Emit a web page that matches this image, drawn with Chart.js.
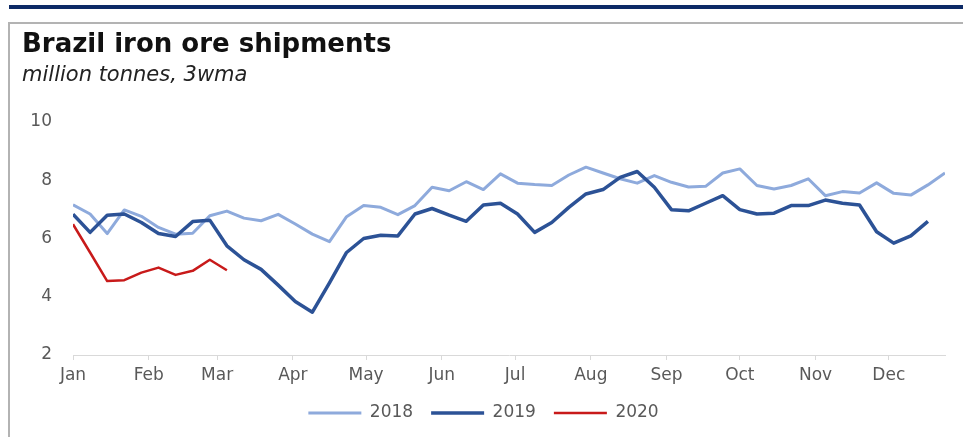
<!DOCTYPE html>
<html>
<head>
<meta charset="utf-8">
<title>Brazil iron ore shipments</title>
<script src="https://cdn.jsdelivr.net/npm/chart.js@4.4.1/dist/chart.umd.min.js"></script>
<style>
    html, body { margin: 0; padding: 0; background: #ffffff; }
    body { width: 963px; height: 437px; position: relative; overflow: hidden; }
    .top-band { position: absolute; left: 9px; top: 5px; width: 954px; height: 4px; background: #0d2a66; }
    .frame { position: absolute; left: 8px; top: 22px; width: 960px; height: 420px;
             border-top: 2px solid #b3b3b3; border-left: 2px solid #b3b3b3; box-sizing: border-box; }
    .chart-box { position: absolute; left: 0; top: 0; width: 963px; height: 437px; }
</style>
</head>
<body>
<div class="top-band"></div>
<div class="frame"></div>
<div class="chart-box"><canvas id="shipments-chart"></canvas></div>

<script>
// Weekly shipments, 3-week moving average (million tonnes)
const weekDay = [0, 7, 14, 21, 28, 35, 42, 49, 56, 63, 70, 77, 84, 91, 98, 105, 112, 119, 126, 133,
    140, 147, 154, 161, 168, 175, 182, 189, 196, 203, 210, 217, 224, 231, 238, 245, 252, 259, 266, 273,
    280, 287, 294, 301, 308, 315, 322, 329, 336, 343, 350, 357];

const ship2018 = [7.16, 6.84, 6.17, 6.98, 6.76, 6.38, 6.15, 6.18, 6.78, 6.94, 6.70, 6.61, 6.83, 6.50,
    6.15, 5.89, 6.75, 7.13, 7.07, 6.82, 7.13, 7.76, 7.64, 7.95, 7.68, 8.22, 7.90, 7.85, 7.82, 8.18,
    8.45, 8.25, 8.05, 7.90, 8.16, 7.93, 7.77, 7.79, 8.25, 8.39, 7.82, 7.70, 7.82, 8.05, 7.47, 7.61,
    7.56, 7.91, 7.55, 7.49, 7.84, 8.25];

const ship2019 = [6.83, 6.21, 6.80, 6.84, 6.55, 6.17, 6.07, 6.58, 6.63, 5.75, 5.27, 4.94, 4.40, 3.84,
    3.47, 4.48, 5.52, 6.00, 6.11, 6.09, 6.84, 7.03, 6.80, 6.59, 7.15, 7.21, 6.84, 6.21, 6.55, 7.07,
    7.53, 7.68, 8.10, 8.30, 7.76, 6.99, 6.95, 7.21, 7.47, 6.99, 6.84, 6.87, 7.13, 7.13, 7.32, 7.21,
    7.15, 6.23, 5.84, 6.09, 6.59];

const ship2020 = [6.49, 5.52, 4.54, 4.57, 4.83, 5.00, 4.75, 4.89, 5.27, 4.91];

// Month ticks along the day-of-year axis
const monthLabels = ['Jan', 'Feb', 'Mar', 'Apr', 'May', 'Jun', 'Jul', 'Aug', 'Sep', 'Oct', 'Nov', 'Dec'];
const monthStartDay = [0, 31, 59, 90, 120, 151, 181, 212, 243, 273, 304, 334];

const yTicks = [2, 4, 6, 8, 10];

function toPoints(values) {
    return values.map((v, i) => ({ x: weekDay[i], y: v }));
}

Chart.defaults.font.family = "'DejaVu Sans', sans-serif";
Chart.defaults.color = '#595959';

const ctx = document.getElementById('shipments-chart').getContext('2d');
const shipmentsChart = new Chart(ctx, {
    type: 'line',
    data: {
        datasets: [
            {
                label: '2018',
                data: toPoints(ship2018),
                borderColor: '#8eaadc',
                backgroundColor: '#8eaadc',
                borderWidth: 3,
                order: 3
            },
            {
                label: '2019',
                data: toPoints(ship2019),
                borderColor: '#2c5296',
                backgroundColor: '#2c5296',
                borderWidth: 3.5,
                order: 2
            },
            {
                label: '2020',
                data: toPoints(ship2020),
                borderColor: '#c81a1a',
                backgroundColor: '#c81a1a',
                borderWidth: 2.5,
                order: 1
            }
        ]
    },
    options: {
        responsive: true,
        maintainAspectRatio: false,
        animation: false,
        layout: {
            padding: { left: 22, right: 18, top: 0, bottom: 5.5 }
        },
        elements: {
            point: { radius: 0 },
            line: { tension: 0, borderJoinStyle: 'round', fill: false }
        },
        scales: {
            x: {
                type: 'linear',
                min: 0,
                max: 357,
                afterBuildTicks: function (scale) {
                    scale.ticks = monthStartDay.map(d => ({ value: d }));
                },
                afterFit: function (scale) {
                    scale.height = 31.5;
                },
                ticks: {
                    autoSkip: false,
                    maxRotation: 0,
                    padding: 5,
                    font: { size: 17 },
                    callback: function (value, index) {
                        return monthLabels[index];
                    }
                },
                grid: {
                    drawOnChartArea: false,
                    drawTicks: true,
                    tickLength: 5,
                    color: '#d9d9d9'
                },
                border: { display: true, color: '#d9d9d9', width: 1 }
            },
            y: {
                min: 2,
                max: 10,
                afterBuildTicks: function (scale) {
                    scale.ticks = yTicks.map(v => ({ value: v }));
                },
                afterFit: function (scale) {
                    scale.width = 51;
                },
                ticks: {
                    padding: 21,
                    font: { size: 17 }
                },
                grid: { display: false, drawTicks: false },
                border: { display: false }
            }
        },
        plugins: {
            title: {
                display: true,
                text: 'Brazil iron ore shipments',
                align: 'start',
                color: '#111111',
                font: { size: 26, weight: 'bold' },
                padding: { top: 30, bottom: 2 }
            },
            subtitle: {
                display: true,
                text: 'million tonnes, 3wma',
                align: 'start',
                color: '#222222',
                font: { size: 21, style: 'italic' },
                padding: { top: 0, bottom: 33.6 }
            },
            legend: {
                position: 'bottom',
                labels: {
                    usePointStyle: true,
                    pointStyle: 'line',
                    pointStyleWidth: 53,
                    padding: 18,
                    color: '#595959',
                    font: { size: 17 },
                    sort: (a, b) => a.datasetIndex - b.datasetIndex
                }
            },
            tooltip: { enabled: false }
        }
    }
});
</script>
</body>
</html>
